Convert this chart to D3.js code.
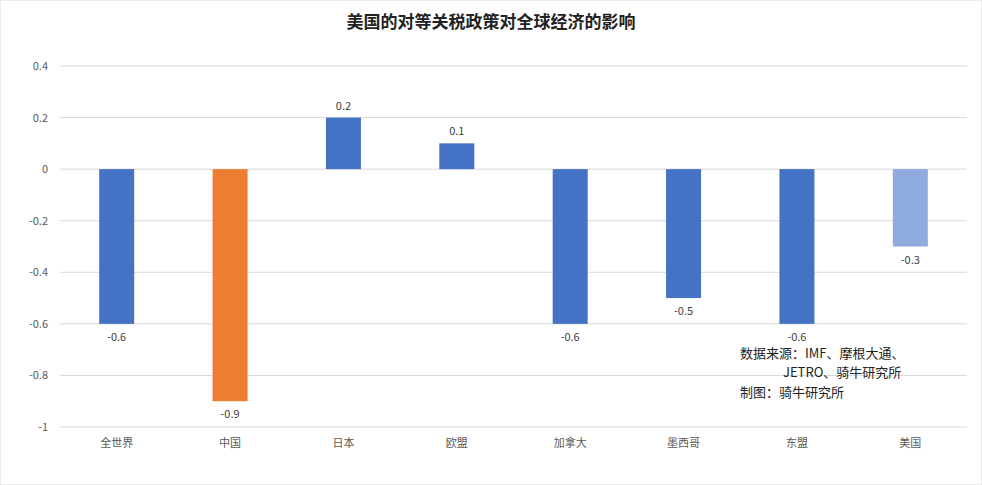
<!DOCTYPE html>
<html><head><meta charset="utf-8">
<script src="https://cdn.jsdelivr.net/npm/d3@7"></script>
<style>body{margin:0;background:#fff;font-family:"Microsoft YaHei","Noto Sans CJK SC",sans-serif}</style>
</head><body><svg id="c" width="982" height="485"></svg>
<script>
const categories=["全世界","中国","日本","欧盟","加拿大","墨西哥","东盟","美国"];
const values=[-0.6,-0.9,0.2,0.1,-0.6,-0.5,-0.6,-0.3];
const colors=["#4472C4","#ED7D31","#4472C4","#4472C4","#4472C4","#4472C4","#4472C4","#8FAADC"];
const ticks=[0.4,0.2,0,-0.2,-0.4,-0.6,-0.8,-1];
const svg=d3.select("#c");
svg.append("rect").attr("width",982).attr("height",485).attr("fill","#fff").attr("stroke","#d9d9d9");
const x=d3.scaleBand().domain(categories).range([60,967]);
const y=d3.scaleLinear().domain([-1,0.4]).range([427,66]);
const f="'Noto Sans CJK SC',sans-serif";
svg.append("text").attr("x",491).attr("y",28).attr("text-anchor","middle").attr("font-size",17).attr("font-weight","bold").attr("font-family",f).attr("fill","#222").text("美国的对等关税政策对全球经济的影响");
svg.selectAll(".g").data(ticks).join("line").attr("x1",60).attr("x2",967).attr("y1",d=>y(d)).attr("y2",d=>y(d)).attr("stroke","#d9d9d9");
svg.selectAll(".t").data(ticks).join("text").attr("x",48).attr("y",d=>y(d)+4).attr("text-anchor","end").attr("font-size",11).attr("font-family",f).attr("fill","#595959").text(d=>d);
svg.selectAll(".b").data(values).join("rect").attr("x",(d,i)=>x(categories[i])+x.bandwidth()/2-17.5).attr("width",35)
 .attr("y",d=>y(Math.max(0,d))).attr("height",d=>Math.abs(y(d)-y(0))).attr("fill",(d,i)=>colors[i]);
svg.selectAll(".l").data(values).join("text").attr("x",(d,i)=>x(categories[i])+x.bandwidth()/2).attr("y",d=>d>=0?y(d)-8:y(d)+17).attr("text-anchor","middle").attr("font-size",11).attr("font-family",f).attr("fill","#404040").text(d=>d);
svg.selectAll(".c").data(categories).join("text").attr("x",d=>x(d)+x.bandwidth()/2).attr("y",447).attr("text-anchor","middle").attr("font-size",11).attr("font-family",f).attr("fill","#595959").text(d=>d);
const notes=[["数据来源：IMF、摩根大通、",740,358],["JETRO、骑牛研究所",783,377],["制图：骑牛研究所",740,397]];
svg.selectAll(".n").data(notes).join("text").attr("x",d=>d[1]).attr("y",d=>d[2]).attr("font-size",13).attr("font-family",f).attr("fill","#222").text(d=>d[0]);
</script></body></html>
